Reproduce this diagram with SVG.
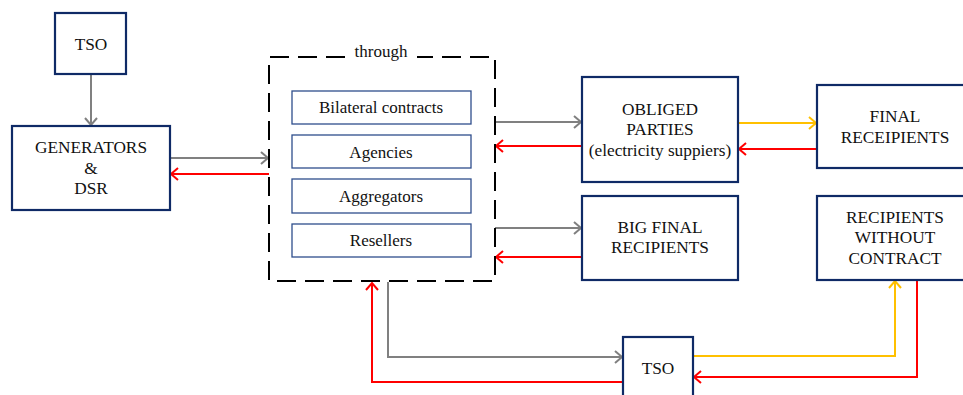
<svg xmlns="http://www.w3.org/2000/svg" width="963" height="395" viewBox="0 0 963 395">
<style>
.box{fill:#fff;stroke:#0F2A66;stroke-width:2.2}
.inner{fill:#fff;stroke:#2E4E8C;stroke-width:1.3}
text{font-family:'Liberation Serif','Times New Roman','DejaVu Serif',serif;fill:#111;text-anchor:middle}
.t{font-size:17.3px}
.ti{font-size:17px}
.g{fill:none;stroke:#808080;stroke-width:2;marker-end:url(#ag)}
.r{fill:none;stroke:#FF0000;stroke-width:2;marker-end:url(#ar)}
.y{fill:none;stroke:#FFC000;stroke-width:2;marker-end:url(#ay)}
.dash{fill:none;stroke:#000;stroke-width:2;stroke-dasharray:19 9}
</style>
<defs>
<marker id="ag" markerUnits="userSpaceOnUse" markerWidth="12" markerHeight="14" refX="8" refY="6" orient="auto" overflow="visible"><path d="M1,0 L8,6 L1,12" fill="none" stroke="#808080" stroke-width="2"/></marker>
<marker id="ar" markerUnits="userSpaceOnUse" markerWidth="12" markerHeight="14" refX="8" refY="6" orient="auto" overflow="visible"><path d="M1,0 L8,6 L1,12" fill="none" stroke="#FF0000" stroke-width="2"/></marker>
<marker id="ay" markerUnits="userSpaceOnUse" markerWidth="12" markerHeight="14" refX="8" refY="6" orient="auto" overflow="visible"><path d="M1,0 L8,6 L1,12" fill="none" stroke="#FFC000" stroke-width="2"/></marker>
</defs>
<rect width="963" height="395" fill="#fff"/>

<g id="connectors">
<path class="g" d="M91,74 V125"/>
<path class="g" d="M170,158 H268"/>
<path class="r" d="M269,174 H171"/>
<path class="g" d="M495,122 H581"/>
<path class="r" d="M582,146 H496"/>
<path class="g" d="M495,228 H581"/>
<path class="r" d="M582,257 H496"/>
<path class="y" d="M738,123 H816"/>
<path class="r" d="M817,149 H739"/>
<path class="g" d="M388,282 V357 H622"/>
<path class="r" d="M623,382 H372 V283"/>
<path class="y" d="M693,356 H895 V281"/>
<path class="r" d="M917,280 V377 H694"/>
</g>

<g id="tso-top">
<rect class="box" x="55" y="13" width="71" height="61"/>
<text class="t" x="91" y="50">TSO</text>
</g>

<g id="generators">
<rect class="box" x="12" y="126" width="158" height="84"/>
<text class="t" x="91" y="153">GENERATORS</text>
<text class="t" x="91" y="174">&amp;</text>
<text class="t" x="91" y="194">DSR</text>
</g>

<g id="through">
<path class="dash" d="M345,57 H269 V281 H495 V57 H417"/>
<text class="ti" x="381" y="57">through</text>
</g>

<g id="bilateral">
<rect class="inner" x="292" y="91" width="179" height="33"/>
<text class="ti" x="381" y="113">Bilateral contracts</text>
</g>
<g id="agencies">
<rect class="inner" x="292" y="135" width="179" height="33"/>
<text class="ti" x="381" y="158">Agencies</text>
</g>
<g id="aggregators">
<rect class="inner" x="292" y="179" width="179" height="34"/>
<text class="ti" x="381" y="202">Aggregators</text>
</g>
<g id="resellers">
<rect class="inner" x="292" y="224" width="179" height="33"/>
<text class="ti" x="381" y="246">Resellers</text>
</g>

<g id="obliged">
<rect class="box" x="582" y="77" width="156" height="105"/>
<text class="t" x="660" y="115">OBLIGED</text>
<text class="t" x="660" y="135">PARTIES</text>
<text class="t" x="660" y="156">(electricity suppiers)</text>
</g>

<g id="big-final">
<rect class="box" x="582" y="196" width="156" height="84"/>
<text class="t" x="660" y="233">BIG FINAL</text>
<text class="t" x="660" y="253">RECIPIENTS</text>
</g>

<g id="final">
<rect class="box" x="817" y="85" width="156" height="83"/>
<text class="t" x="895" y="122">FINAL</text>
<text class="t" x="895" y="143">RECEIPIENTS</text>
</g>

<g id="without">
<rect class="box" x="817" y="196" width="156" height="84"/>
<text class="t" x="895" y="223">RECIPIENTS</text>
<text class="t" x="895" y="243">WITHOUT</text>
<text class="t" x="895" y="264">CONTRACT</text>
</g>

<g id="tso-bottom">
<rect class="box" x="623" y="337" width="70" height="80"/>
<text class="t" x="658" y="374">TSO</text>
</g>
</svg>
